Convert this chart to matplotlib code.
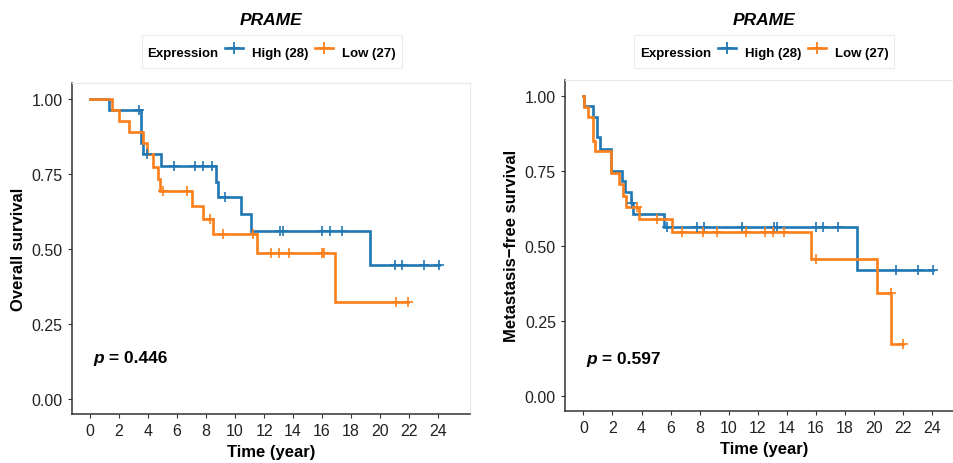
import numpy as np
import matplotlib
matplotlib.use("Agg")
import matplotlib.pyplot as plt
from matplotlib.lines import Line2D

plt.rcParams['font.family'] = ['Liberation Sans', 'DejaVu Sans']

# ---------------- data ----------------
title = "PRAME"
legend_title = "Expression"
group_labels = ["High (28)", "Low (27)"]
x_ticks = [0, 2, 4, 6, 8, 10, 12, 14, 16, 18, 20, 22, 24]
y_ticks = [0.00, 0.25, 0.50, 0.75, 1.00]

# Overall survival (left)
os_high_t = [1.33, 3.5, 3.62, 4.9, 8.69, 8.85, 10.4, 11.1, 19.3]
os_high_s = [0.964, 0.853, 0.816, 0.776, 0.724, 0.672, 0.617, 0.561, 0.447]
os_high_cens = [3.4, 3.9, 5.8, 7.24, 7.77, 8.39, 9.3, 13.1, 13.3, 16.0, 16.55,
                17.4, 21.0, 21.5, 23.0, 24.05]
os_high_end = 24.05

os_low_t = [1.53, 2.0, 2.71, 3.68, 3.95, 4.37, 4.7, 4.8, 7.0, 7.77, 8.5, 11.5, 16.9]
os_low_s = [0.963, 0.926, 0.889, 0.852, 0.815, 0.772, 0.733, 0.692, 0.644, 0.600,
            0.549, 0.488, 0.324]
os_low_cens = [5.06, 6.7, 8.25, 9.17, 11.2, 12.5, 13.0, 13.75, 16.0, 16.1, 21.1, 21.95]
os_low_end = 21.95
os_p = "0.446"

# Metastasis-free survival (right)
mfs_high_t = [0.03, 0.68, 0.95, 1.14, 1.9, 2.63, 2.86, 3.28, 3.43, 5.57, 18.8]
mfs_high_s = [0.964, 0.928, 0.861, 0.822, 0.748, 0.715, 0.678, 0.641, 0.606, 0.561, 0.42]
mfs_high_cens = [3.35, 5.74, 7.8, 8.3, 10.9, 13.1, 13.3, 16.0, 16.5, 17.5, 21.55, 23.0, 24.05]
mfs_high_end = 24.05

mfs_low_t = [0.02, 0.33, 0.63, 0.8, 1.87, 2.47, 2.7, 2.93, 3.85, 6.08, 15.7, 20.2, 21.2]
mfs_low_s = [0.963, 0.928, 0.85, 0.817, 0.741, 0.706, 0.667, 0.63, 0.589, 0.547,
             0.456, 0.341, 0.172]
mfs_low_cens = [3.67, 5.09, 6.77, 8.26, 9.19, 11.2, 12.5, 13.05, 13.8, 16.0, 21.15, 22.0]
mfs_low_end = 22.0
mfs_p = "0.597"

BLUE = "#2077b4"
ORANGE = "#fc7f1a"

# ---------------- figure ----------------
W, H = 954, 464
fig = plt.figure(figsize=(W / 100, H / 100), dpi=100)


def px_axes(x0, x1, ytop, ybot):
    return fig.add_axes([x0 / W, 1 - ybot / H, (x1 - x0) / W, (ybot - ytop) / H])


def km_curve(ax, st, ss, end, cens, color):
    st = np.asarray(st)
    ss = np.asarray(ss)
    t = np.concatenate([[0.0], st, [end]])
    s = np.concatenate([[1.0], ss, [ss[-1]]])
    ax.step(t, s, where='post', color=color, lw=1.9, solid_joinstyle='miter',
            zorder=3)
    idx = np.searchsorted(st, cens, side='right')
    lev = np.concatenate([[1.0], ss])[idx]
    ax.plot(cens, lev, ls='none', marker='+', ms=7.5, mew=1.2, color=color, zorder=4)


def style_axes(ax, ylabel):
    ax.set_xlim(-1.27, 26.2)
    ax.set_ylim(-0.05, 1.053)
    ax.set_xticks(x_ticks)
    ax.set_xticklabels([str(v) for v in x_ticks])
    ax.set_yticks(y_ticks)
    ax.set_yticklabels([f"{v:.2f}" for v in y_ticks])
    for sp in ('left', 'bottom'):
        ax.spines[sp].set_color('#333333')
        ax.spines[sp].set_linewidth(1.1)
    for sp in ('top', 'right'):
        ax.spines[sp].set_color('#e8e8e8')
        ax.spines[sp].set_linewidth(0.8)
    ax.tick_params(direction='out', length=3, width=0.8, color='#333333',
                   labelsize=11.5, labelcolor='#222222', pad=3.5,
                   top=False, right=False)
    ax.set_xlabel("Time (year)", fontsize=12, fontweight='bold', labelpad=4.5)
    ax.set_ylabel(ylabel, fontsize=12, fontweight='bold', labelpad=4)
    ax.set_facecolor('white')


def add_legend(ax, cx, cy):
    handles = [Line2D([], [], color=c, lw=1.9, marker='+', ms=8, mew=1.3)
               for c in (BLUE, ORANGE)]
    leg = ax.legend(handles, group_labels, title=legend_title, ncol=2, loc='center',
                    bbox_to_anchor=(cx / W, 1 - cy / H), bbox_transform=fig.transFigure,
                    prop=dict(weight='bold', size=9.5),
                    title_fontproperties=dict(weight='bold', size=9.5),
                    frameon=True, fancybox=False, edgecolor='#ebebeb', framealpha=1,
                    handlelength=1.36, handletextpad=0.68, columnspacing=0.5,
                    borderpad=0.45, handleheight=2.0)
    leg.get_frame().set_linewidth(0.8)
    vp = leg._legend_box
    title_box, hpack = vp.get_children()
    vp._children = [hpack]
    hpack._children = [title_box] + hpack.get_children()
    return leg


def p_text(ax, x, y, val):
    t1 = ax.text(x, y, 'p', fontsize=12.5, fontweight='bold', fontstyle='italic',
                 ha='left', va='baseline', color='black')
    ax.annotate(f' = {val}', xy=(1, 0), xycoords=t1, fontsize=12.5,
                fontweight='bold', ha='left', va='bottom', color='black')


ax1 = px_axes(71.7, 470, 84, 415)
ax2 = px_axes(565, 964, 80.7, 411.7)

km_curve(ax1, os_high_t, os_high_s, os_high_end, os_high_cens, BLUE)
km_curve(ax1, os_low_t, os_low_s, os_low_end, os_low_cens, ORANGE)
style_axes(ax1, "Overall survival")
ax1.set_title(title, fontsize=12.5, fontweight='bold', fontstyle='italic', pad=42.5)
add_legend(ax1, 271.7, 52.5)
p_text(ax1, 0.2, 0.122, os_p)

km_curve(ax2, mfs_high_t, mfs_high_s, mfs_high_end, mfs_high_cens, BLUE)
km_curve(ax2, mfs_low_t, mfs_low_s, mfs_low_end, mfs_low_cens, ORANGE)
style_axes(ax2, "Metastasis\u2212free survival")
ax2.set_title(title, fontsize=12.5, fontweight='bold', fontstyle='italic', pad=40)
add_legend(ax2, 764.2, 52.5)
p_text(ax2, 0.17, 0.11, mfs_p)

fig.savefig("out.png", dpi=100, facecolor='white')
